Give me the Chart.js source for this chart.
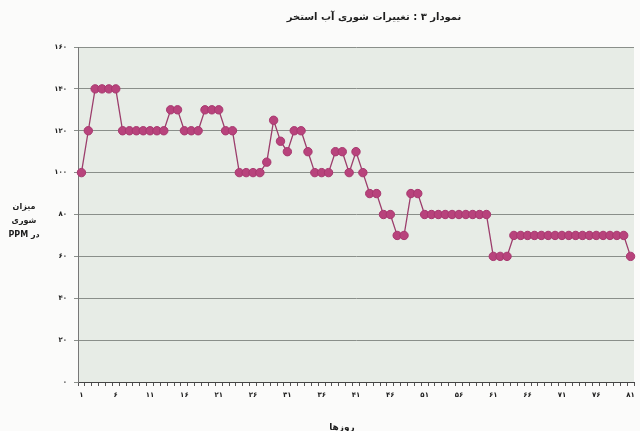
<!DOCTYPE html>
<html>
<head>
<meta charset="utf-8">
<script src="https://cdn.jsdelivr.net/npm/chart.js@4.4.1/dist/chart.umd.min.js"></script>
<style>
  html, body { margin: 0; padding: 0; background: #fbfbfa; }
  #wrap { width: 640px; height: 431px; position: relative; }
</style>
</head>
<body>
<div id="wrap"><canvas id="c" width="640" height="431"></canvas></div>
<script>
// Day numbers (x categories)
const days = [
  1, 2, 3, 4, 5, 6, 7, 8, 9, 10, 11, 12, 13, 14, 15, 16, 17, 18, 19, 20,
  21, 22, 23, 24, 25, 26, 27, 28, 29, 30, 31, 32, 33, 34, 35, 36, 37, 38, 39, 40,
  41, 42, 43, 44, 45, 46, 47, 48, 49, 50, 51, 52, 53, 54, 55, 56, 57, 58, 59, 60,
  61, 62, 63, 64, 65, 66, 67, 68, 69, 70, 71, 72, 73, 74, 75, 76, 77, 78, 79, 80, 81
];

// Pool water salinity (ppm) per day
const salinity = [
  100, 120, 140, 140, 140, 140, 120, 120, 120, 120, 120, 120, 120, 130, 130, 120, 120, 120, 130, 130,
  130, 120, 120, 100, 100, 100, 100, 105, 125, 115, 110, 120, 120, 110, 100, 100, 100, 110, 110, 100,
  110, 100, 90, 90, 80, 80, 70, 70, 90, 90, 80, 80, 80, 80, 80, 80, 80, 80, 80, 80,
  60, 60, 60, 70, 70, 70, 70, 70, 70, 70, 70, 70, 70, 70, 70, 70, 70, 70, 70, 70, 60
];

// Y axis range
const yMin = 0, yMax = 160, yStep = 20;
// Show an x label every n-th day
const labelEvery = 5;

const chartTitle = 'نمودار ۳ : تغییرات شوری آب استخر';
const yTitleLines = ['میزان', 'شوری', 'در PPM'];
const xTitle = 'روزها';

const faDigits = '۰۱۲۳۴۵۶۷۸۹';
const toFa = n => String(n).replace(/[0-9]/g, d => faDigits[+d]);

const FONT = '"DejaVu Sans", sans-serif';

// Grey-green plot background
const plotBg = {
  id: 'plotBg',
  beforeDraw(chart) {
    const { ctx, chartArea: a } = chart;
    ctx.save();
    ctx.fillStyle = '#e7ece6';
    ctx.fillRect(a.left, a.top, a.right - a.left, a.bottom - a.top);
    ctx.restore();
  }
};

// Title and axis captions
const captions = {
  id: 'captions',
  afterDraw(chart) {
    const ctx = chart.ctx;
    ctx.save();
    ctx.fillStyle = '#1e1e1e';
    ctx.textAlign = 'center';
    ctx.textBaseline = 'middle';
    ctx.direction = 'rtl';
    ctx.font = 'bold 10px ' + FONT;
    ctx.fillText(chartTitle, 374, 17);
    ctx.font = 'bold 8px ' + FONT;
    yTitleLines.forEach((t, i) => ctx.fillText(t, 24, 207 + i * 14));
    ctx.font = 'bold 9px ' + FONT;
    ctx.fillText(xTitle, 342, 428);
    ctx.restore();
  }
};

new Chart(document.getElementById('c'), {
  type: 'line',
  data: {
    labels: days.map(toFa),
    datasets: [{
      data: salinity,
      borderColor: '#9c3e6c',
      borderWidth: 1.3,
      backgroundColor: '#b8437c',
      pointBackgroundColor: '#b8437c',
      pointBorderColor: '#a8386f',
      pointBorderWidth: 1,
      pointRadius: 4.2,
      tension: 0,
      fill: false
    }]
  },
  options: {
    responsive: false,
    animation: false,
    events: [],
    layout: { padding: { top: 47, right: 6, left: 0, bottom: 0 } },
    plugins: {
      legend: { display: false },
      title: { display: false },
      tooltip: { enabled: false }
    },
    scales: {
      x: {
        offset: true,
        grid: {
          offset: true,
          drawOnChartArea: false,
          drawTicks: true,
          tickLength: 4,
          color: '#555'
        },
        border: { color: '#444', width: 1 },
        ticks: {
          autoSkip: false,
          maxRotation: 0,
          padding: 5,
          color: '#222',
          font: { family: FONT, size: 7, weight: 'bold' },
          callback: (v, i) => (i % labelEvery === 0 ? toFa(days[i]) : '')
        },
        afterFit: s => { s.height = 49; }
      },
      y: {
        min: yMin,
        max: yMax,
        grid: {
          color: '#8a8f8a',
          lineWidth: 1,
          tickLength: 4,
          drawTicks: true
        },
        border: { color: '#777', width: 1 },
        ticks: {
          stepSize: yStep,
          padding: 7,
          color: '#222',
          font: { family: FONT, size: 7, weight: 'bold' },
          callback: v => toFa(v)
        },
        afterFit: s => { s.width = 78; }
      }
    }
  },
  plugins: [plotBg, captions]
});
</script>
</body>
</html>
